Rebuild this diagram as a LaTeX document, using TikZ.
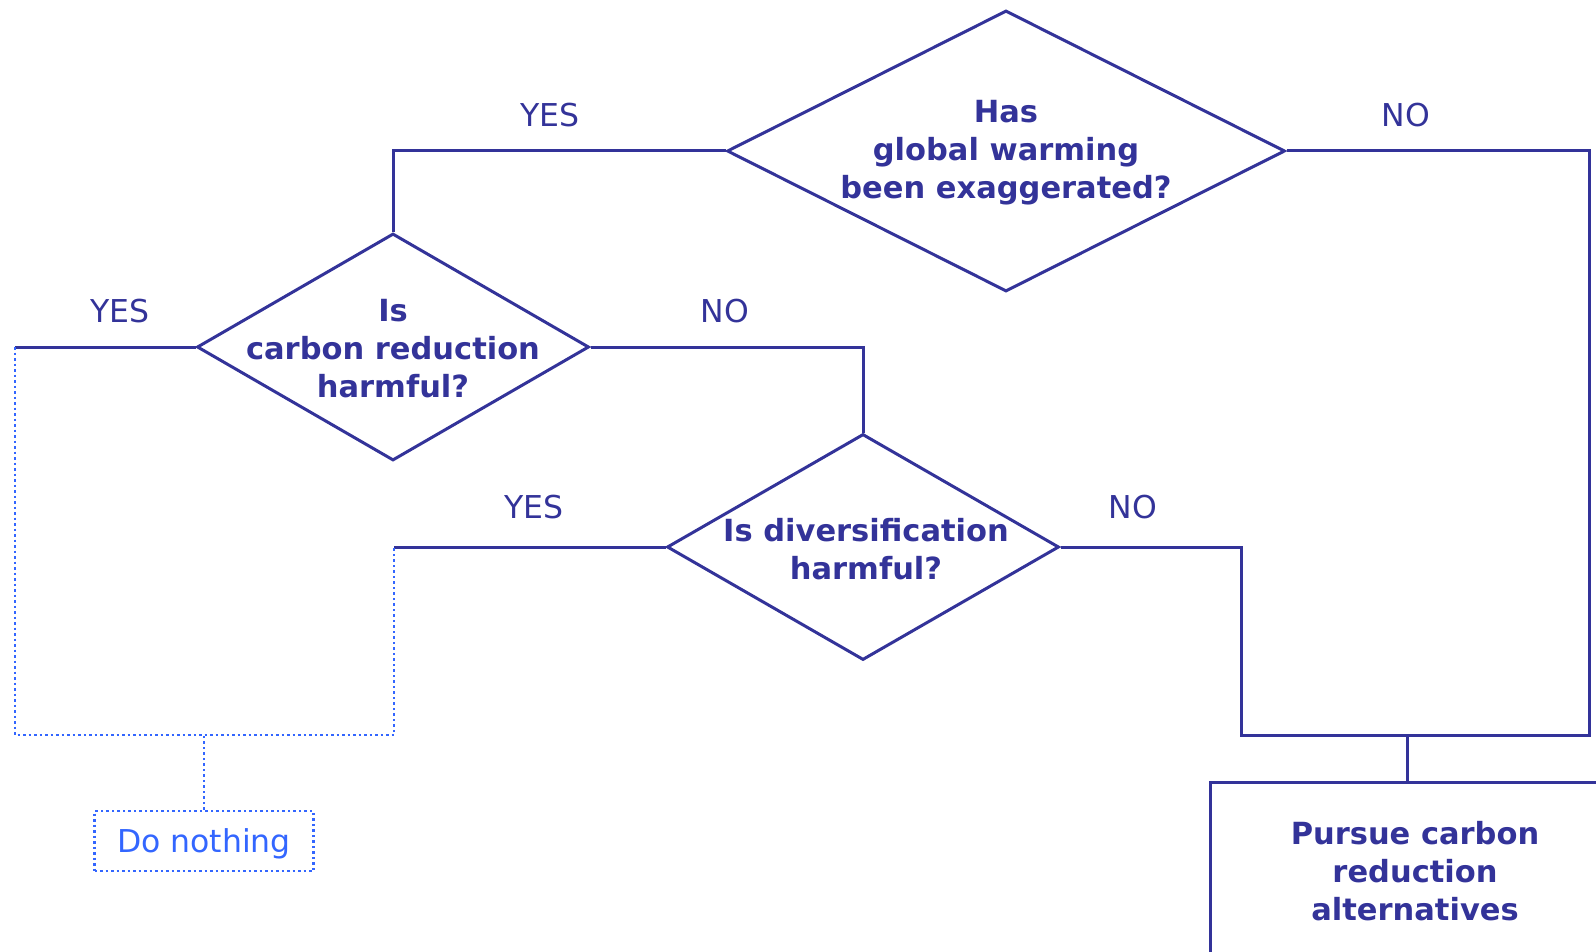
\documentclass[tikz,border=0pt]{standalone}
\usepackage{fontspec}
\setmainfont{DejaVu Sans}
\usetikzlibrary{positioning,calc,shapes.geometric}

\definecolor{flowblue}{HTML}{333399}
\definecolor{dotblue}{HTML}{3366FF}

\tikzset{
  decision/.style={diamond,draw=flowblue,line width=3pt,inner sep=0pt},
  question/.style={align=center,text=flowblue,font=\fontsize{30.5}{38}\selectfont\bfseries},
  answer/.style={text=flowblue,font=\fontsize{31.5}{38}\selectfont},
  flow/.style={draw=flowblue,line width=3pt},
  maybe/.style={draw=dotblue,line width=2.8pt,dash pattern=on 2.5pt off 3pt},
}

\begin{document}
\begin{tikzpicture}[x=1pt,y=-1pt]
  \clip (0,0) rectangle (1596,952);
  % decisions
  \node[decision,minimum width=558,minimum height=281] (warm) at (1006,151) {};
  \node[question] (warmq) at (1006,153) {Has\\global warming\\been exaggerated?};
  \node[decision,minimum width=392,minimum height=227] (carb) at (393,347) {};
  \node[question] (carbq) at (393,349) {Is\\carbon reduction\\harmful?};
  \node[decision,minimum width=392,minimum height=226] (div) at (863,547) {};
  \node[question] (divq) at (866,549) {Is diversification\\harmful?};
  % outcomes
  \node[draw=flowblue,line width=3pt,minimum width=410,minimum height=178,question] (pursue) at (1415,871) {Pursue carbon\\reduction\\alternatives};
  \node[maybe,text=dotblue,font=\fontsize{31.5}{38}\selectfont,text depth=0pt,minimum width=219,minimum height=60] (nothing) at (204,841) {Do nothing};
  % joins
  \coordinate (rjoin) at (1589,735);
  \coordinate (ljoin) at (1241,735);
  \coordinate (mjoin) at (1407,735);
  \coordinate (yl) at (15,347);
  \coordinate (yd) at (394,547);
  \coordinate (dl) at (15,735);
  \coordinate (dr) at (394,735);
  % connectors
  \draw[flow] (warm.west) -| (carb.north);
  \draw[flow] (warm.east) -| (rjoin) -- (ljoin) |- (div.east);
  \draw[flow] (mjoin) -- (mjoin |- pursue.north);
  \draw[flow] (carb.east) -| (div.north);
  \draw[flow] (carb.west) -- (yl);
  \draw[flow] (div.west) -- (yd);
  \draw[maybe] (yl) -- (dl) -- (dr) -- (yd);
  \draw[maybe] (nothing.north) -- (nothing.north |- dl);
  % answers
  \node[answer] (yes1) at (550,115) {YES};
  \node[answer] (no1) at (1406,115) {NO};
  \node[answer] (yes2) at (120,311) {YES};
  \node[answer] (no2) at (725,311) {NO};
  \node[answer] (yes3) at (534,507) {YES};
  \node[answer] (no3) at (1133,507) {NO};
\end{tikzpicture}
\end{document}
